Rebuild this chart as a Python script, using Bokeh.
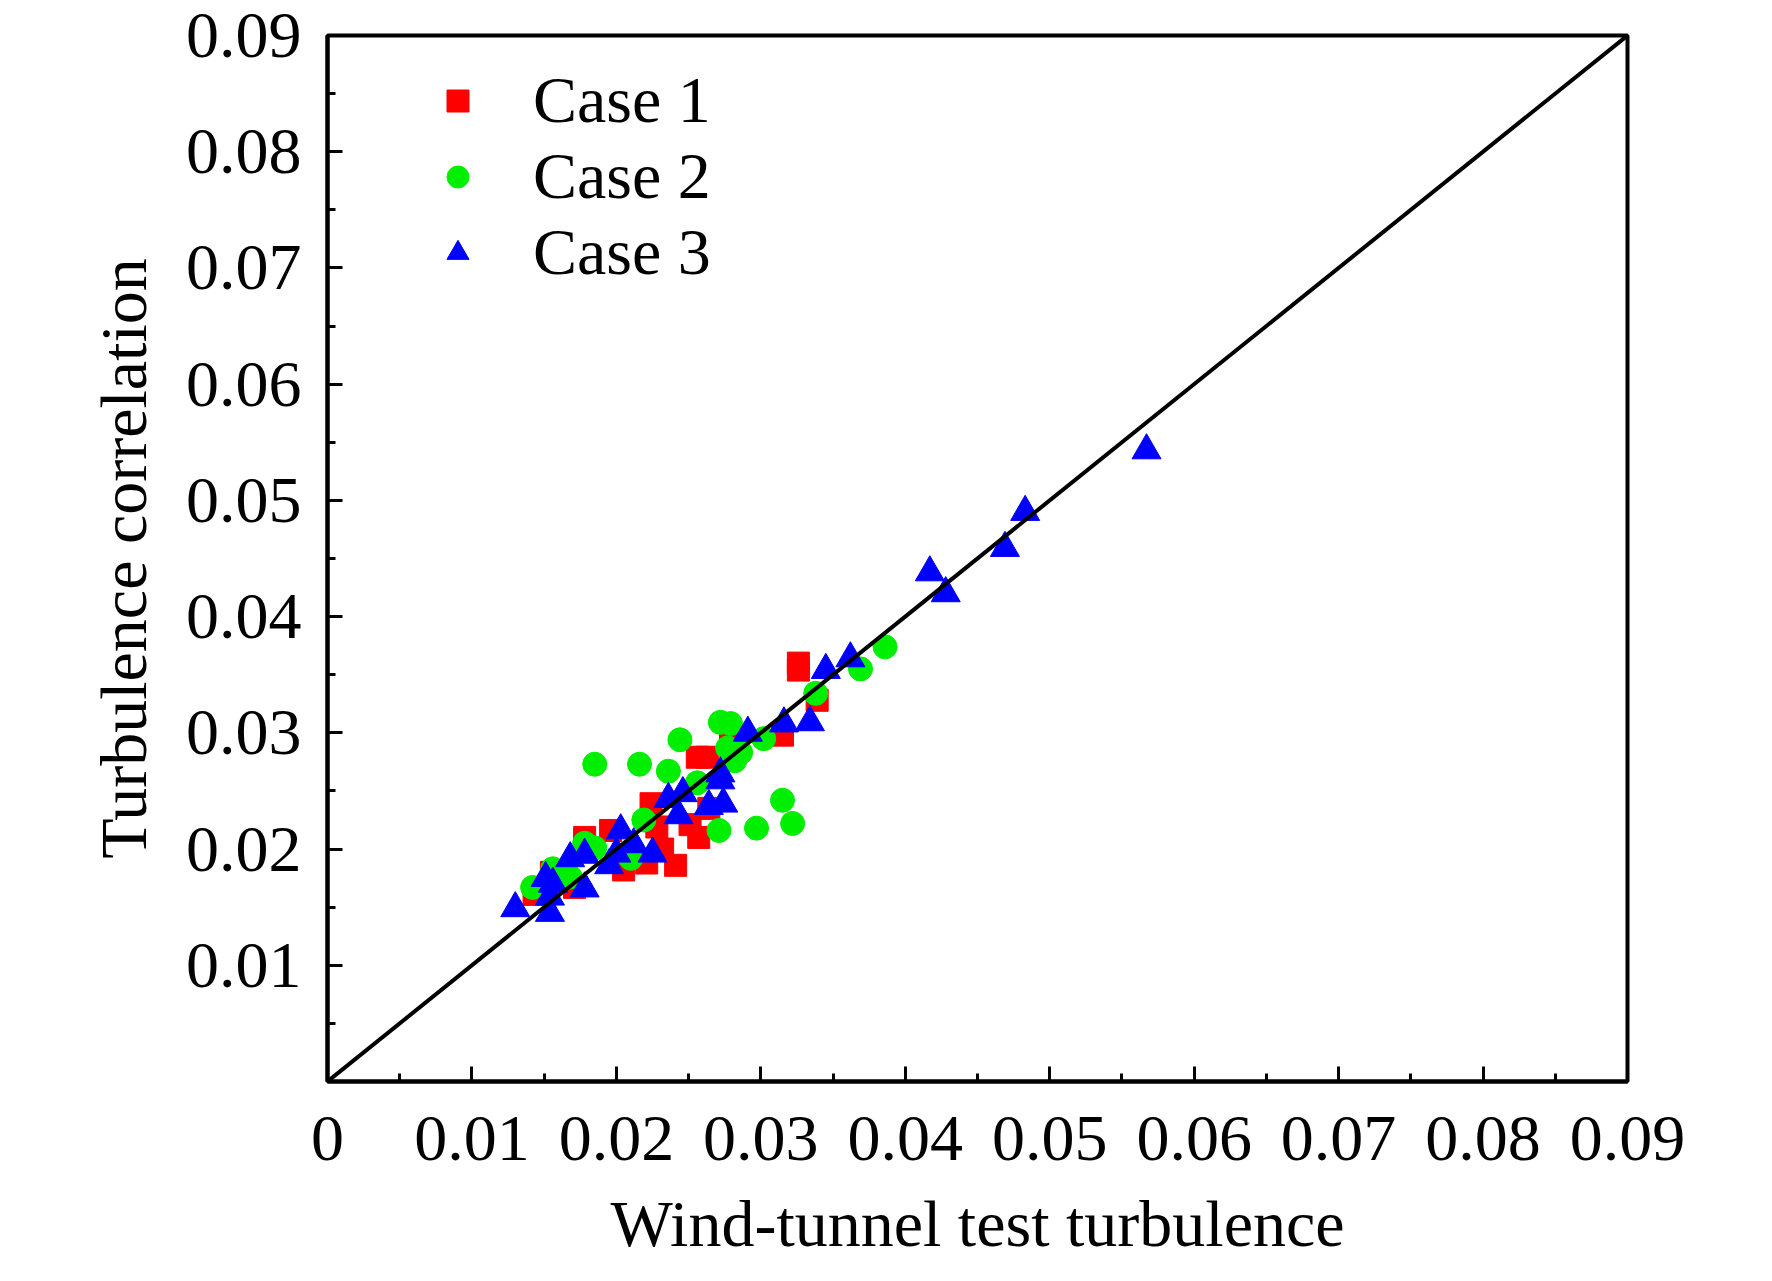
from bokeh.plotting import figure
from bokeh.models import (Range1d, FixedTicker, CustomJSTickFormatter, Legend,
                          LegendItem, Slope)
from bokeh.embed import file_html
from bokeh.resources import INLINE

# ---- data ----
case1_x = [0.0143, 0.0155, 0.0171, 0.0178, 0.0196, 0.0205, 0.0221, 0.0232, 0.0241,
           0.0228, 0.0224, 0.0251, 0.0257, 0.0256, 0.0263, 0.0264, 0.0279, 0.0315,
           0.0326, 0.0326, 0.0339]
case1_y = [0.0161, 0.0180, 0.0167, 0.0210, 0.0216, 0.0182, 0.0188, 0.0200, 0.0186,
           0.0219, 0.0239, 0.0221, 0.0210, 0.0279, 0.0279, 0.0235, 0.0300, 0.0298,
           0.0360, 0.0354, 0.0328]

case2_x = [0.0142, 0.0156, 0.0168, 0.0178, 0.0185, 0.0210, 0.0219, 0.0185, 0.0216,
           0.0236, 0.0244, 0.0256, 0.0272, 0.0279, 0.0277, 0.0286, 0.0282, 0.0302,
           0.0271, 0.0297, 0.0315, 0.0322, 0.0338, 0.0369, 0.0386]
case2_y = [0.0167, 0.0183, 0.0176, 0.0205, 0.0201, 0.0192, 0.0225, 0.0273, 0.0273,
           0.0267, 0.0294, 0.0257, 0.0309, 0.0308, 0.0287, 0.0283, 0.0276, 0.0295,
           0.0216, 0.0218, 0.0242, 0.0222, 0.0334, 0.0355, 0.0374]

case3_x = [0.0130, 0.0154, 0.0151, 0.0156, 0.0154, 0.0178, 0.0168, 0.0178, 0.0195,
           0.0200, 0.0203, 0.0212, 0.0225, 0.0236, 0.0246, 0.0243, 0.0264, 0.0274,
           0.0272, 0.0272, 0.0291, 0.0316, 0.0334, 0.0345, 0.0362, 0.0417, 0.0428,
           0.0469, 0.0483, 0.0567]
case3_y = [0.0149, 0.0145, 0.0175, 0.0170, 0.0159, 0.0166, 0.0192, 0.0195, 0.0186,
           0.0196, 0.0216, 0.0204, 0.0196, 0.0243, 0.0248, 0.0229, 0.0237, 0.0239,
           0.0265, 0.0259, 0.0300, 0.0308, 0.0309, 0.0354, 0.0364, 0.0438, 0.0420,
           0.0459, 0.0490, 0.0543]

x_ticks = [0.0, 0.01, 0.02, 0.03, 0.04, 0.05, 0.06, 0.07, 0.08, 0.09]
y_ticks = [0.01, 0.02, 0.03, 0.04, 0.05, 0.06, 0.07, 0.08, 0.09]
minor_ticks = [0.005, 0.015, 0.025, 0.035, 0.045, 0.055, 0.065, 0.075, 0.085]
labels = ["Case 1", "Case 2", "Case 3"]
x_label = "Wind-tunnel test turbulence"
y_label = "Turbulence correlation"

FONT = "Liberation Serif"
FS = "66px"

p = figure(width=1756, height=1265, output_backend="svg", toolbar_location=None,
           x_range=Range1d(0, 0.09), y_range=Range1d(0, 0.09),
           min_border_left=327, min_border_right=129, min_border_top=35,
           min_border_bottom=184)
p.background_fill_color = "white"
p.border_fill_color = "white"
p.grid.visible = False
p.outline_line_color = "black"
p.outline_line_width = 4

fmt = CustomJSTickFormatter(code="return Math.abs(tick) < 1e-9 ? '0' : tick.toFixed(2);")
p.xaxis.ticker = FixedTicker(ticks=x_ticks, minor_ticks=minor_ticks)
p.yaxis.ticker = FixedTicker(ticks=y_ticks, minor_ticks=minor_ticks)
for ax in (p.xaxis[0], p.yaxis[0]):
    ax.formatter = fmt
    ax.axis_line_width = 4
    ax.axis_line_color = "black"
    ax.major_tick_in = 15
    ax.major_tick_out = 0
    ax.minor_tick_in = 8
    ax.minor_tick_out = 0
    ax.major_tick_line_width = 3
    ax.minor_tick_line_width = 3
    ax.major_tick_line_color = "black"
    ax.minor_tick_line_color = "black"
    ax.major_label_text_font = FONT
    ax.major_label_text_font_size = FS
    ax.major_label_text_color = "black"
    ax.axis_label_text_font = FONT
    ax.axis_label_text_font_size = FS
    ax.axis_label_text_font_style = "normal"
    ax.axis_label_text_color = "black"

p.xaxis.axis_label = x_label
p.yaxis.axis_label = y_label
p.xaxis.major_label_standoff = 35
p.xaxis.axis_label_standoff = 24
p.yaxis.major_label_standoff = 26
p.yaxis.axis_label_standoff = 23
p.yaxis.major_label_orientation = "horizontal"

r1 = p.scatter(case1_x, case1_y, marker="square", size=22, color="#FF0000")
r2 = p.scatter(case2_x, case2_y, marker="circle", size=24, color="#00EE00")
r3 = p.scatter(case3_x, case3_y, marker="triangle", size=29, color="#0000FF")

p.add_layout(Slope(gradient=1, y_intercept=0, line_color="black", line_width=4))

legend = Legend(items=[LegendItem(label=labels[0], renderers=[r1]),
                       LegendItem(label=labels[1], renderers=[r2]),
                       LegendItem(label=labels[2], renderers=[r3])],
                location=(103, 791), orientation="vertical")
legend.border_line_color = None
legend.background_fill_alpha = 0
legend.margin = 0
legend.padding = 0
legend.glyph_width = 55
legend.glyph_height = 55
legend.label_standoff = 48
legend.spacing = -6
legend.label_text_font = FONT
legend.label_text_font_size = FS
legend.label_text_color = "black"
p.add_layout(legend)

open("out.html", "w").write(file_html(p, INLINE))
